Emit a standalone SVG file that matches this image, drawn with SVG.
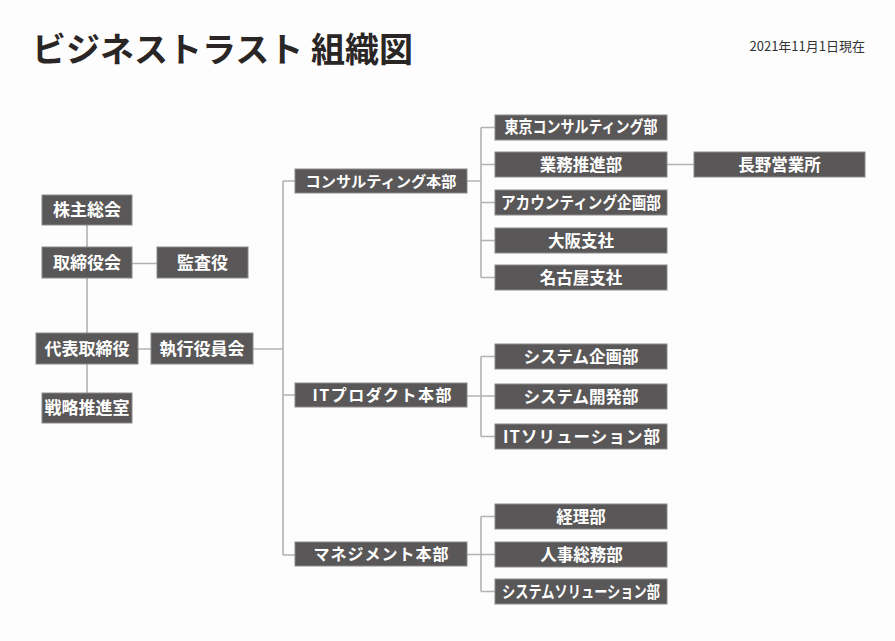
<svg xmlns="http://www.w3.org/2000/svg" width="895" height="641" viewBox="0 0 895 641">
<style>
.bg{fill:#fdfdfd}
.title{font-family:"Noto Sans CJK JP","Noto Sans",sans-serif;font-weight:700;font-size:34px;fill:#2b2626}
.date{font-family:"Noto Sans CJK JP","Noto Sans",sans-serif;font-size:13px;fill:#333}
.box{fill:#595757;stroke:#8c8a8a;stroke-width:1}
.t{font-family:"Noto Sans CJK JP","Noto Sans",sans-serif;font-weight:700;fill:#fff;text-anchor:middle}
.l{font-size:17px}
.m{font-size:15px}
.m2{font-size:16px}
.s{font-size:16.5px}
.conn{stroke:#b2b2b2;stroke-width:1.6;fill:none}
</style>
<rect class="bg" x="0" y="0" width="895" height="641"/>
<text class="title" x="32" y="62">ビジネストラスト 組織図</text>
<text class="date" x="865" y="51" text-anchor="end">2021年11月1日現在</text>

<g id="connectors">
<path class="conn" d="M87 225V247M87 278V333M87 364V393M132 263.5H157M138 349H151M253 349H283M283 181V555M283 181H295M283 395H295M283 555H295"/>
<path class="conn" d="M467 181H481M481 127.5V277.5M481 127.5H495M481 164.5H495M481 202.5H495M481 240.5H495M481 277.5H495M667 164.5H694"/>
<path class="conn" d="M467 396H495M481 356.5V436.5M481 356.5H495M481 436.5H495"/>
<path class="conn" d="M467 554.5H495M481 516.5V591.5M481 516.5H495M481 591.5H495"/>
</g>

<g id="n-kabunushi"><rect class="box" x="42" y="195" width="90" height="30"/><text class="t l" x="87" y="216">株主総会</text></g>
<g id="n-torishimariyakukai"><rect class="box" x="42" y="247" width="90" height="31"/><text class="t l" x="87" y="268.5">取締役会</text></g>
<g id="n-kansayaku"><rect class="box" x="157" y="247" width="91" height="31"/><text class="t l" x="202.5" y="268.5">監査役</text></g>
<g id="n-daihyo"><rect class="box" x="36" y="333" width="102" height="31"/><text class="t l" x="87" y="354.5">代表取締役</text></g>
<g id="n-shikko"><rect class="box" x="151" y="333" width="102" height="31"/><text class="t l" x="202" y="354.5">執行役員会</text></g>
<g id="n-senryaku"><rect class="box" x="42" y="393" width="90" height="30"/><text class="t l" x="87" y="414">戦略推進室</text></g>

<g id="n-consul-hq"><rect class="box" x="295" y="169" width="172" height="24"/><text class="t m" x="381" y="186.5" textLength="151" lengthAdjust="spacingAndGlyphs">コンサルティング本部</text></g>
<g id="n-it-hq"><rect class="box" x="295" y="383" width="172" height="24"/><text class="t m2" x="382" y="400.5" textLength="139" lengthAdjust="spacing">ITプロダクト本部</text></g>
<g id="n-mgmt-hq"><rect class="box" x="295" y="542" width="172" height="24"/><text class="t m2" x="381" y="559.5" textLength="135" lengthAdjust="spacing">マネジメント本部</text></g>

<g id="n-tokyo"><rect class="box" x="495" y="115" width="172" height="25"/><text class="t s" x="581" y="133" textLength="153" lengthAdjust="spacingAndGlyphs">東京コンサルティング部</text></g>
<g id="n-gyomu"><rect class="box" x="495" y="152" width="172" height="25"/><text class="t s" x="581" y="170.5">業務推進部</text></g>
<g id="n-nagano"><rect class="box" x="694" y="152" width="171" height="25"/><text class="t s" x="779.5" y="170.5">長野営業所</text></g>
<g id="n-accounting"><rect class="box" x="495" y="190" width="172" height="25"/><text class="t s" x="581" y="208.5" textLength="160" lengthAdjust="spacingAndGlyphs">アカウンティング企画部</text></g>
<g id="n-osaka"><rect class="box" x="495" y="228" width="172" height="25"/><text class="t s" x="581" y="246.5">大阪支社</text></g>
<g id="n-nagoya"><rect class="box" x="495" y="265" width="172" height="25"/><text class="t s" x="581" y="283.5">名古屋支社</text></g>

<g id="n-sys-kikaku"><rect class="box" x="495" y="344" width="172" height="25"/><text class="t s" x="581" y="362.5">システム企画部</text></g>
<g id="n-sys-kaihatsu"><rect class="box" x="495" y="384" width="172" height="25"/><text class="t s" x="581" y="402.5">システム開発部</text></g>
<g id="n-it-solution"><rect class="box" x="495" y="424" width="172" height="25"/><text class="t s" x="581.5" y="442.5" textLength="157" lengthAdjust="spacing">ITソリューション部</text></g>

<g id="n-keiri"><rect class="box" x="495" y="504" width="172" height="25"/><text class="t s" x="581" y="522.5">経理部</text></g>
<g id="n-jinji"><rect class="box" x="495" y="542" width="172" height="25"/><text class="t s" x="581.5" y="560.5">人事総務部</text></g>
<g id="n-sys-solution"><rect class="box" x="495" y="579" width="172" height="25"/><text class="t s" x="581" y="597.5" textLength="158" lengthAdjust="spacingAndGlyphs">システムソリューション部</text></g>
</svg>
